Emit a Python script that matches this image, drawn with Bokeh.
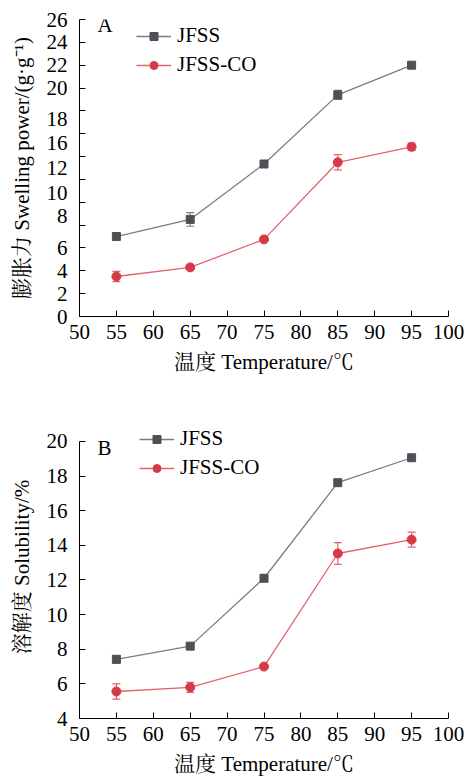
from bokeh.plotting import figure
from bokeh.models import (Range1d, FixedTicker, Whisker, TeeHead, ColumnDataSource,
                          Legend, LegendItem, Label)
from bokeh.layouts import column
from bokeh.embed import file_html
from bokeh.resources import INLINE

# ---------------- data ----------------
temps = [55, 65, 75, 85, 95]

a_jfss = [7.0, 8.5, 13.35, 19.4, 22.0]
a_jfss_err = [0.26, 0.6, 0.15, 0.4, 0.1]
a_co = [3.5, 4.3, 6.75, 13.5, 14.85]
a_co_err = [0.45, 0.15, 0.15, 0.67, 0.32]

b_jfss = [7.42, 8.18, 12.1, 17.62, 19.06]
b_jfss_err = [0.22, 0.1, 0.1, 0.15, 0.08]
b_co = [5.56, 5.8, 7.0, 13.53, 14.33]
b_co_err = [0.44, 0.29, 0.1, 0.63, 0.43]

series_names = ["JFSS", "JFSS-CO"]
x_ticks = [50, 55, 60, 65, 70, 75, 80, 85, 90, 95, 100]
a_yticks = [0, 2, 4, 6, 8, 10, 12, 14, 16, 18, 20, 22, 24, 26]
a_ylabels = ["0", "2", "4", "6", "8", "10", "12", "16", "18", "20", "22", "24", "26"]
a_ylabel_at = [0, 2, 4, 6, 8.8, 10.8, 13.0, 15.2, 17.3, 20, 22, 24, 26]
b_yticks = [4, 6, 8, 10, 12, 14, 16, 18, 20]

# ---------------- style ----------------
FONT = "'Liberation Serif', 'Times New Roman', 'Noto Serif CJK SC', 'Noto Sans CJK SC', serif"
FS = "21px"
GRAY_LINE = "#7b7b83"
GRAY_MARK = "#4f4f57"
RED_LINE = "#e2636e"
RED_MARK = "#d63a48"


def make_panel(h, btop, bbot, yr, ybounds, ytitle, letter, s1, e1, s2, e2, legend_loc,
               letter_loc, yticker):
    p = figure(width=465, height=h, x_range=Range1d(50, 100), y_range=Range1d(*yr),
               output_backend="svg", toolbar_location=None,
               min_border_left=79, min_border_right=17,
               min_border_top=btop, min_border_bottom=bbot)
    p.outline_line_color = None
    p.grid.visible = False
    p.background_fill_color = "white"
    p.border_fill_color = "white"

    for ax in (p.xaxis[0], p.yaxis[0]):
        ax.axis_line_color = "black"
        ax.axis_line_width = 1
        ax.major_tick_line_color = "black"
        ax.major_tick_in = 6
        ax.major_tick_out = 0
        ax.minor_tick_line_color = None
        ax.major_label_text_font = FONT
        ax.major_label_text_font_size = FS
        ax.major_label_text_color = "black"
        ax.axis_label_text_font = FONT
        ax.axis_label_text_font_size = FS
        ax.axis_label_text_font_style = "normal"
        ax.axis_label_text_color = "black"

    p.xaxis.ticker = FixedTicker(ticks=x_ticks)
    p.xaxis.major_label_standoff = 8
    p.xaxis.axis_label = "温度 Temperature/℃"
    p.xaxis.axis_label_standoff = 8

    p.yaxis.ticker = yticker
    p.yaxis.bounds = ybounds
    p.yaxis.major_label_standoff = 12
    p.yaxis.axis_label = ytitle
    p.yaxis.axis_label_standoff = 10

    renderers = []
    for vals, errs, lc, mc, marker, msize in (
            (s1, e1, GRAY_LINE, GRAY_MARK, "square", 8),
            (s2, e2, RED_LINE, RED_MARK, "circle", 9)):
        src = ColumnDataSource(dict(x=temps, y=vals,
                                    lo=[v - e for v, e in zip(vals, errs)],
                                    hi=[v + e for v, e in zip(vals, errs)]))
        w = Whisker(base="x", upper="hi", lower="lo", source=src, dimension="height",
                    line_color=lc, line_width=1.2,
                    upper_head=TeeHead(size=8, line_color=lc, line_width=1.2),
                    lower_head=TeeHead(size=8, line_color=lc, line_width=1.2))
        p.add_layout(w)
        lr = p.line("x", "y", source=src, line_color=lc, line_width=1.3)
        sr = p.scatter("x", "y", source=src, marker=marker, size=msize,
                       fill_color=mc, line_color=mc)
        renderers.append((lr, sr))

    items = [LegendItem(label=n, renderers=list(r)) for n, r in zip(series_names, renderers)]
    leg = Legend(items=items, location=legend_loc, border_line_color=None,
                 background_fill_alpha=0, glyph_width=35, glyph_height=20,
                 label_standoff=6, spacing=4, padding=0, margin=0,
                 label_text_font=FONT, label_text_font_size=FS, label_text_color="black")
    p.add_layout(leg)

    p.add_layout(Label(x=letter_loc[0], y=letter_loc[1], x_units="screen", y_units="screen",
                       text=letter, text_font=FONT, text_font_size=FS, text_color="black",
                       text_baseline="middle", text_align="left"))
    return p


tick_a = FixedTicker(ticks=a_ylabel_at, minor_ticks=a_yticks)
pa = make_panel(393, 19, 77, (0, 26), (0, 26), "膨胀力 Swelling power/(g·g⁻¹)", "A",
                a_jfss, a_jfss_err, a_co, a_co_err, (57, 239), (18, 292), tick_a)
pa.yaxis.major_tick_line_color = None
pa.yaxis.minor_tick_line_color = "black"
pa.yaxis.minor_tick_in = 6
pa.yaxis.minor_tick_out = 0
pa.yaxis.major_label_overrides = {v: s for v, s in zip(a_ylabel_at, a_ylabels)}

pb = make_panel(385, 22, 60, (4, 21.5), (4, 20), "溶解度 Solubility/%", "B",
                b_jfss, b_jfss_err, b_co, b_co_err, (60, 238), (18, 271),
                FixedTicker(ticks=b_yticks))

layout = column(pa, pb, spacing=0)
open("out.html", "w").write(file_html(layout, INLINE))
